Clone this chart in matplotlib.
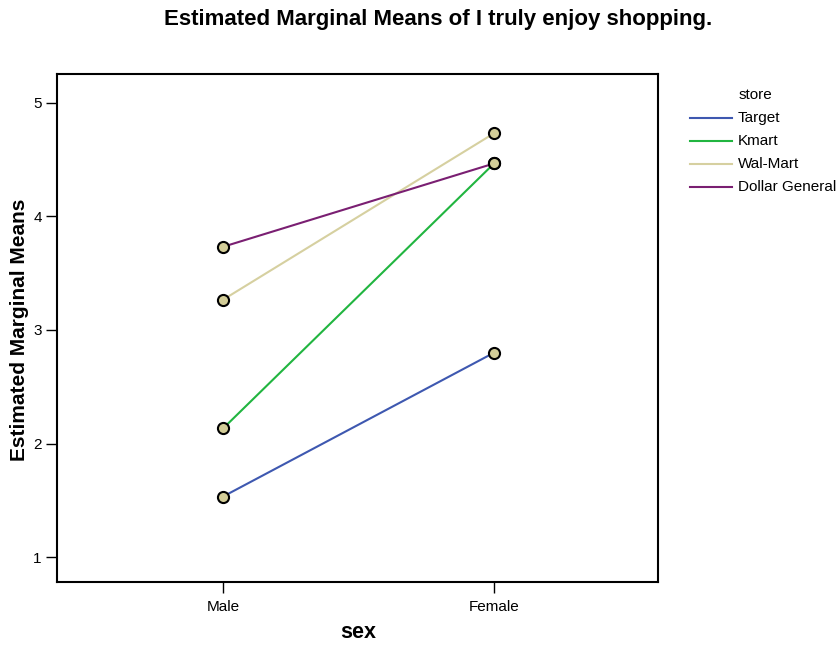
import matplotlib
matplotlib.use("Agg")
import matplotlib.pyplot as plt
from matplotlib.lines import Line2D

plt.rcParams['font.family'] = ['Liberation Sans', 'DejaVu Sans']

sexes = ["Male", "Female"]
stores = ["Target", "Kmart", "Wal-Mart", "Dollar General"]
target = [1.533, 2.800]
kmart = [2.133, 4.467]
walmart = [3.267, 4.733]
dollar_general = [3.733, 4.467]
series = [target, kmart, walmart, dollar_general]
colors = ["#3e58b0", "#21b540", "#d6d0a0", "#7a1f72"]
yticks = [1, 2, 3, 4, 5]

W, H = 839, 645
fig = plt.figure(figsize=(W/100, H/100), dpi=100)
ax = fig.add_axes([57/W, 1-582/H, (658-57)/W, (582-74)/H])

x = list(range(len(sexes)))
for vals, c in zip(series, colors):
    ax.plot(x, vals, color=c, lw=1.5, zorder=2)
for vals in series:
    ax.plot(x, vals, ls='none', marker='o', ms=8, mfc='#d3cd98', mec='black', mew=1.5, zorder=3)

ax.set_xlim(-0.613, 1.605)
ax.set_ylim(0.78, 5.255)
ax.set_xticks(x)
ax.set_xticklabels(sexes)
ax.set_yticks(yticks)
ax.set_yticklabels([str(t) for t in yticks])
for s in ax.spines.values():
    s.set_linewidth(1.5)
ax.tick_params(axis='both', length=8, width=1, labelsize=11)
ax.tick_params(axis='x', pad=5)
ax.tick_params(axis='y', pad=3)

fig.text(358/W, 1-632/H, "sex", ha='center', va='center', fontsize=15.5, fontweight='bold')
fig.text(20/W, 1-330/H, "Estimated Marginal Means", ha='center', va='center',
         rotation=90, fontsize=15, fontweight='bold')
fig.text(438/W, 1-19/H, "Estimated Marginal Means of I truly enjoy shopping.",
         ha='center', va='center', fontsize=16, fontweight='bold')

# legend
fig.text(755/W, 1-95/H, "store", ha='center', va='center', fontsize=11)
for i, (name, c) in enumerate(zip(stores, colors)):
    yy = 1 - (118 + 23*i)/H
    fig.add_artist(Line2D([690/W, 732/W], [yy, yy], color=c, lw=1.5, transform=fig.transFigure))
    fig.text(738/W, yy, name, ha='left', va='center', fontsize=11)

fig.savefig("out.png", dpi=100)
